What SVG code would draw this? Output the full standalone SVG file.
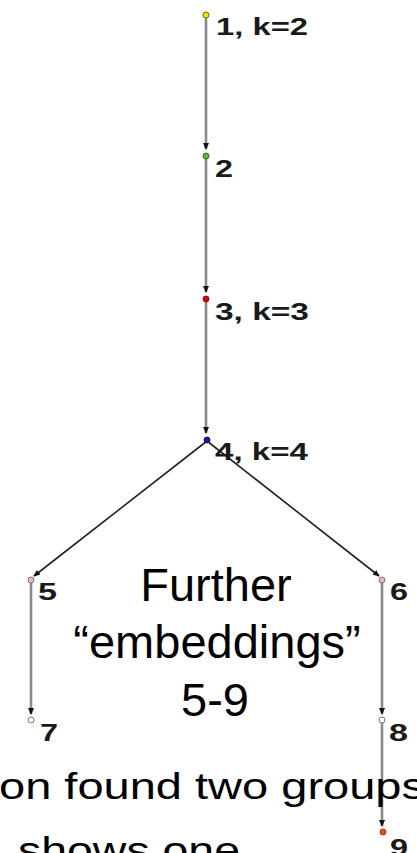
<svg xmlns="http://www.w3.org/2000/svg" width="417" height="853" viewBox="0 0 417 853">
<style>
  .lbl { font-family: "Liberation Sans", Arial, sans-serif; font-weight: bold; font-size: 24px; fill: #1a1a1a; }
  .big { font-family: "Liberation Sans", Arial, sans-serif; font-size: 47px; fill: #000; text-anchor: middle; }
  .cap { font-family: "Liberation Sans", Arial, sans-serif; font-size: 37px; fill: #000; }
  .gray { stroke: #8a8a8a; stroke-width: 2.6; fill: none; }
  .dark { stroke: #222; stroke-width: 1.6; fill: none; }
  .node { stroke-width: 1; }
</style>
<defs>
  <marker id="ah" markerWidth="7" markerHeight="6" refX="6" refY="3" orient="auto" markerUnits="userSpaceOnUse">
    <path d="M0,0 L7,3 L0,6 Z" fill="#111"/>
  </marker>
</defs>
<rect width="417" height="853" fill="#fff"/>
<g id="connectors">
  <line class="gray" x1="206" y1="18" x2="206" y2="149" marker-end="url(#ah)"/>
  <line class="gray" x1="206" y1="158" x2="206" y2="292" marker-end="url(#ah)"/>
  <line class="gray" x1="206" y1="301" x2="206" y2="433" marker-end="url(#ah)"/>
  <line class="dark" x1="207" y1="441" x2="34" y2="576" marker-end="url(#ah)"/>
  <line class="dark" x1="207" y1="441" x2="379" y2="576" marker-end="url(#ah)"/>
  <line class="gray" x1="31" y1="583" x2="31" y2="714" marker-end="url(#ah)"/>
  <line class="gray" x1="382" y1="583" x2="382" y2="714" marker-end="url(#ah)"/>
  <line class="gray" x1="382" y1="723" x2="382" y2="826" marker-end="url(#ah)"/>
</g>
<g id="n1"><circle class="node" cx="206" cy="15" r="3" fill="#eaea00" stroke="#6b6b20"/><text class="lbl" x="216" y="35" textLength="92" lengthAdjust="spacingAndGlyphs">1, k=2</text></g>
<g id="n2"><circle class="node" cx="206" cy="156" r="3" fill="#5cb82c" stroke="#3a6a20"/><text class="lbl" x="215" y="177" textLength="18" lengthAdjust="spacingAndGlyphs">2</text></g>
<g id="n3"><circle class="node" cx="206" cy="299" r="3" fill="#e00000" stroke="#801010"/><text class="lbl" x="215" y="320" textLength="94" lengthAdjust="spacingAndGlyphs">3, k=3</text></g>
<g id="n4"><circle class="node" cx="207" cy="440" r="3" fill="#1a1a9a" stroke="#101050"/><text class="lbl" x="215" y="460" textLength="93" lengthAdjust="spacingAndGlyphs">4, k=4</text></g>
<g id="n5"><circle class="node" cx="31" cy="580" r="3" fill="#e8b8c8" stroke="#777"/><text class="lbl" x="38" y="600" textLength="19" lengthAdjust="spacingAndGlyphs">5</text></g>
<g id="n6"><circle class="node" cx="382" cy="580" r="3" fill="#e8b8c8" stroke="#777"/><text class="lbl" x="390" y="600" textLength="18" lengthAdjust="spacingAndGlyphs">6</text></g>
<g id="n7"><circle class="node" cx="31" cy="720" r="3" fill="#fff" stroke="#777"/><text class="lbl" x="40" y="741" textLength="18" lengthAdjust="spacingAndGlyphs">7</text></g>
<g id="n8"><circle class="node" cx="382" cy="720" r="3" fill="#fff" stroke="#777"/><text class="lbl" x="389" y="741" textLength="19" lengthAdjust="spacingAndGlyphs">8</text></g>
<g id="n9"><circle class="node" cx="383" cy="832" r="3" fill="#e8501a" stroke="#a03010"/><text class="lbl" x="390" y="856" textLength="18" lengthAdjust="spacingAndGlyphs">9</text></g>
<g id="note">
  <text class="big" x="216" y="601">Further</text>
  <text class="big" x="217" y="658">“embeddings”</text>
  <text class="big" x="215" y="716">5-9</text>
</g>
<g id="caption">
  <text class="cap" x="-1" y="799" textLength="426" lengthAdjust="spacingAndGlyphs">on found two groups</text>
  <text class="cap" x="18" y="863" textLength="222" lengthAdjust="spacingAndGlyphs">shows one</text>
</g>
</svg>
